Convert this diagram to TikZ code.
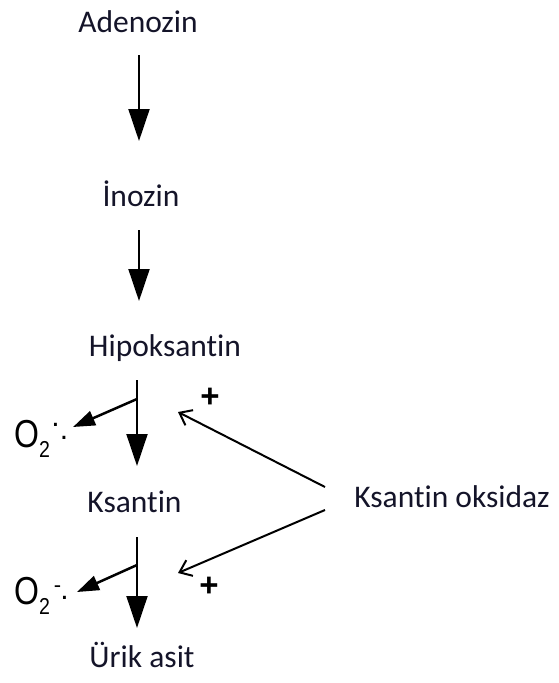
\documentclass[tikz,border=0pt]{standalone}
\usepackage{fontspec}
\usepackage{graphicx}
\usetikzlibrary{arrows.meta}
\newfontfamily\labfont[Ligatures=NoCommon]{Carlito}
\newfontfamily\arfont{Liberation Sans}
\definecolor{txt}{rgb}{0.08,0.08,0.16}
\begin{document}
\begin{tikzpicture}[x=1pt,y=-1pt,
  lab/.style={inner sep=0pt,anchor=base,text=txt,font=\labfont\fontsize{31.5}{36}\selectfont},
  oxy/.style={inner sep=0pt,anchor=base west,font=\arfont},
  plus/.style={inner sep=0pt,font=\arfont\bfseries\fontsize{33}{36}\selectfont},
  mainarrow/.style={line width=2pt,-{Triangle[width=21pt,length=32pt]}},
  sidearrow/.style={line width=2.5pt,-{Triangle[width=15pt,length=22pt]}},
  enzarrow/.style={line width=2pt,-{Straight Barb[length=11pt,width=17pt,line width=2pt]}}]
\useasboundingbox (0,0) rectangle (558,683);
% compounds
\node[lab] (ade) at (138,32) {Adenozin};
\node[lab] (ino) at (141,206) {İnozin};
\node[lab] (hip) at (165,356) {Hipoksantin};
\node[lab] (ksa) at (134.5,512) {Ksantin};
\node[lab] (uri) at (142,667) {Ürik asit};
\node[lab] (kox) at (452,507) {Ksantin oksidaz};
% superoxide
\newcommand{\Obig}{{\fontsize{39}{40}\selectfont\scalebox{0.82}[1]{O}}}
\newcommand{\Osub}{\raisebox{-10pt}{\fontsize{23}{24}\selectfont\scalebox{0.85}[1]{2}}}
\node[oxy] (o1) at (14,447) {\Obig\Osub{\fontsize{30}{22}\selectfont\hspace{1.5pt}\raisebox{20.5pt}{.}\hspace{0pt}\raisebox{7.5pt}{.}}};
\node[oxy] (o2) at (14,604) {\Obig\Osub{\fontsize{22}{22}\selectfont\hspace{4pt}\raisebox{12pt}{-}{\fontsize{30}{22}\selectfont\hspace{-1pt}\raisebox{4.5pt}{.}}}};
% plus signs
\node[plus] (p1) at (210,398) {+};
\node[plus] (p2) at (209,587) {+};
% arrow ends
\coordinate (s1) at (139,55);  \coordinate (e1) at (139,141);
\coordinate (s2) at (139,230); \coordinate (e2) at (139,301);
\coordinate (s3) at (137,380); \coordinate (e3) at (137,466);
\coordinate (s4) at (137,537); \coordinate (e4) at (137,628);
\coordinate (b1) at (137,399); \coordinate (t1) at (73,427);
\coordinate (b2) at (137,565); \coordinate (t2) at (77,592);
\coordinate (k1) at (325,487); \coordinate (q1) at (178,412);
\coordinate (k2) at (325,510); \coordinate (q2) at (178,573);
% main pathway
\draw[mainarrow] (s1) -- (e1);
\draw[mainarrow] (s2) -- (e2);
\draw[mainarrow] (s3) -- (e3);
\draw[mainarrow] (s4) -- (e4);
% superoxide release
\draw[sidearrow] (b1) -- (t1);
\draw[sidearrow] (b2) -- (t2);
% enzyme
\draw[enzarrow] (k1) -- (q1);
\draw[enzarrow] (k2) -- (q2);
\end{tikzpicture}
\end{document}
